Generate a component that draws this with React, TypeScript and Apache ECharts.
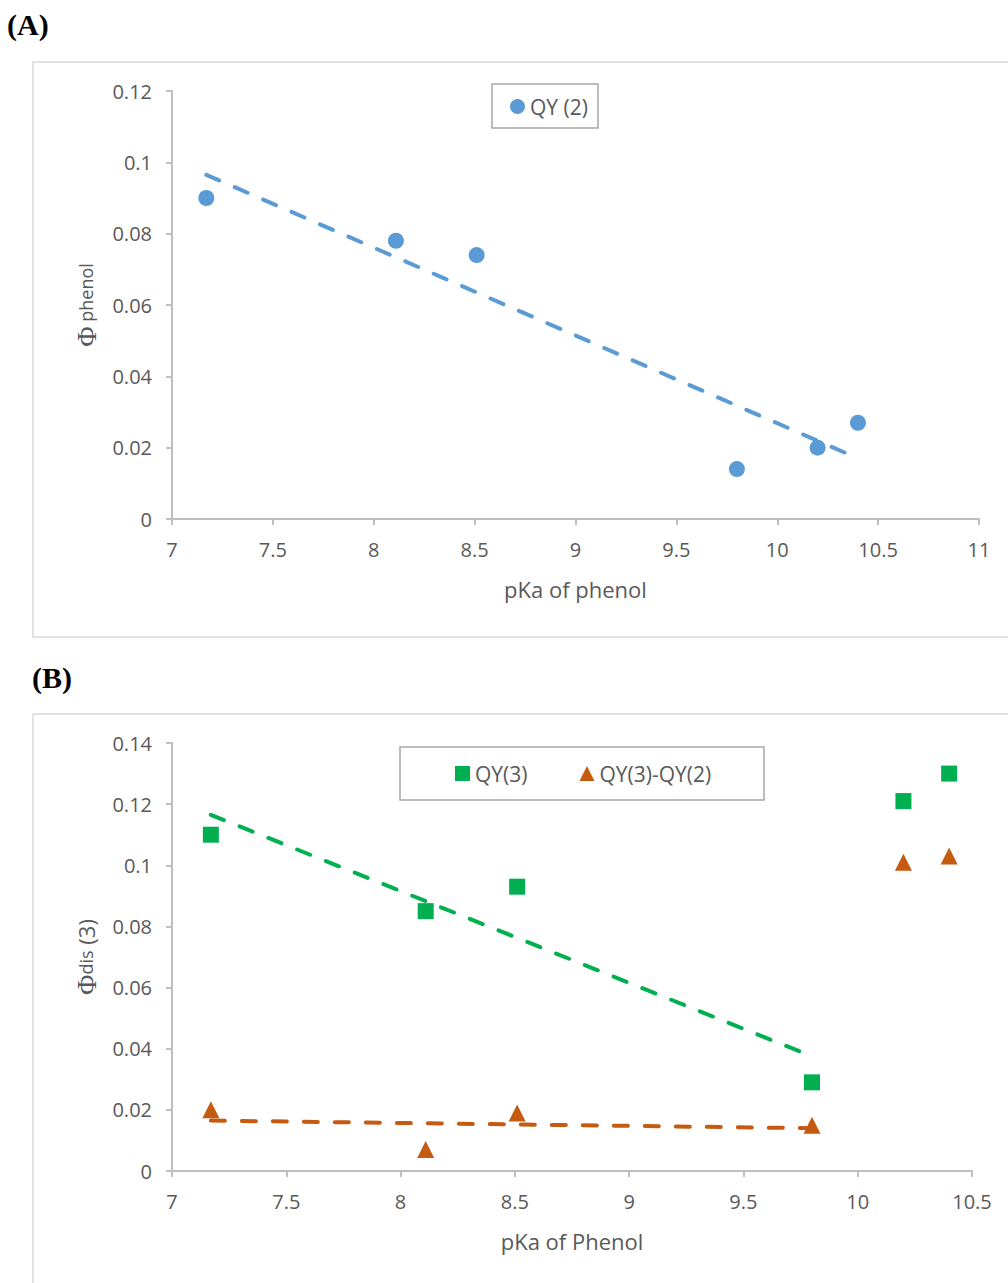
import React, { useEffect, useRef } from "react";
import * as echarts from "echarts";

// Panel A data
const pKaA = [7.17, 8.11, 8.51, 9.8, 10.2, 10.4];
const qy2 = [0.09, 0.078, 0.074, 0.014, 0.02, 0.027];
const trendA = [[7.17, 0.0965], [10.4, 0.017]];

// Panel B data
const pKaB = [7.17, 8.11, 8.51, 9.8, 10.2, 10.4];
const qy3 = [0.11, 0.085, 0.093, 0.029, 0.121, 0.13];
const qyDiff = [0.02, 0.007, 0.019, 0.015, 0.101, 0.103];
const trendB3 = [[7.17, 0.1165], [9.8, 0.0375]];
const trendBDiff = [[7.17, 0.0165], [9.8, 0.014]];

const xTicksA = { min: 7, max: 11, interval: 0.5 };
const yTicksA = { min: 0, max: 0.12, interval: 0.02 };
const xTicksB = { min: 7, max: 10.5, interval: 0.5 };
const yTicksB = { min: 0, max: 0.14, interval: 0.02 };

const BLUE = "#5b9bd5";
const GREEN = "#00b050";
const ORANGE = "#c55a11";
const TXT = "#595959";
const AX = "#bfbfbf";
const FONT = "Open Sans";

const fmt = (v: number) => String(parseFloat(v.toFixed(3)));

function xAxis(gridIndex: number, t: any, name: string) {
  return {
    type: "value",
    gridIndex,
    min: t.min,
    max: t.max,
    interval: t.interval,
    name,
    nameLocation: "middle",
    nameGap: 59,
    nameTextStyle: { color: TXT, fontSize: 22, fontFamily: FONT },
    axisLine: { show: true, onZero: false, lineStyle: { color: AX, width: 2 } },
    axisTick: { show: true, length: 6, lineStyle: { color: AX, width: 2 } },
    axisLabel: { color: TXT, fontSize: 20, fontFamily: FONT, margin: 20, formatter: fmt },
    splitLine: { show: false },
  };
}

function yAxis(gridIndex: number, t: any, name: string) {
  return {
    type: "value",
    gridIndex,
    min: t.min,
    max: t.max,
    interval: t.interval,
    name,
    nameLocation: "middle",
    nameGap: 72,
    nameTextStyle: {
      color: TXT,
      fontFamily: FONT,
      rich: {
        p: { fontFamily: "Liberation Serif", fontSize: 28, color: TXT },
        s: { fontFamily: FONT, fontSize: 18, color: TXT },
        n: { fontFamily: FONT, fontSize: 22, color: TXT },
      },
    },
    axisLine: { show: true, lineStyle: { color: AX, width: 2 } },
    axisTick: { show: true, length: 6, lineStyle: { color: AX, width: 2 } },
    axisLabel: { color: TXT, fontSize: 20, fontFamily: FONT, margin: 20, formatter: fmt },
    splitLine: { show: false },
  };
}

function trend(name: string, data: number[][], color: string, xi: number, yi: number) {
  return {
    type: "line",
    name,
    xAxisIndex: xi,
    yAxisIndex: yi,
    data,
    showSymbol: false,
    symbol: "none",
    silent: true,
    z: 5,
    lineStyle: { color, width: 4, type: [14, 17], cap: "round" },
  };
}

export default function App() {
  const ref = useRef<HTMLDivElement>(null);
  useEffect(() => {
    if (!ref.current) return;
    const chart = echarts.init(ref.current, undefined, { renderer: "svg" });
    chart.setOption({
      animation: false,
      backgroundColor: "#ffffff",
      grid: [
        { left: 172, top: 91, width: 807, height: 428 },
        { left: 172, top: 743, width: 800, height: 428 },
      ],
      xAxis: [xAxis(0, xTicksA, "pKa of phenol"), xAxis(1, xTicksB, "pKa of Phenol")],
      yAxis: [yAxis(0, yTicksA, "{p|Φ}{s| phenol}"), yAxis(1, yTicksB, "{p|Φ}{s|dis}{n| (3)}")],
      legend: [
        {
          data: ["QY (2)"],
          left: 510,
          top: 96,
          padding: 0,
          itemWidth: 15,
          itemHeight: 15,
          itemGap: 10,
          textStyle: { color: TXT, fontSize: 21, fontFamily: FONT },
        },
        {
          data: ["QY(3)", "QY(3)-QY(2)"],
          left: 455,
          top: 763,
          padding: 0,
          itemWidth: 15,
          itemHeight: 15,
          itemGap: 52,
          textStyle: { color: TXT, fontSize: 21, fontFamily: FONT },
        },
      ],
      graphic: [
        { type: "rect", shape: { x: 33, y: 62, width: 1000, height: 575 }, style: { fill: "none", stroke: "#d9d9d9", lineWidth: 1.5 }, z: -1 },
        { type: "rect", shape: { x: 33, y: 714, width: 1000, height: 600 }, style: { fill: "none", stroke: "#d9d9d9", lineWidth: 1.5 }, z: -1 },
        { type: "rect", shape: { x: 492, y: 84, width: 106, height: 44 }, style: { fill: "none", stroke: "#a6a6a6", lineWidth: 1.5 } },
        { type: "rect", shape: { x: 400, y: 747, width: 364, height: 53 }, style: { fill: "none", stroke: "#a6a6a6", lineWidth: 1.5 } },
        { type: "text", x: 7, y: 9, style: { text: "(A)", font: "bold 30px 'Liberation Serif'", fill: "#000" } },
        { type: "text", x: 32, y: 662, style: { text: "(B)", font: "bold 30px 'Liberation Serif'", fill: "#000" } },
      ],
      series: [
        {
          type: "scatter",
          name: "QY (2)",
          xAxisIndex: 0,
          yAxisIndex: 0,
          data: pKaA.map((x, i) => [x, qy2[i]]),
          symbol: "circle",
          symbolSize: 16,
          itemStyle: { color: BLUE, opacity: 1 },
          z: 3,
        },
        trend("trendA", trendA, BLUE, 0, 0),
        {
          type: "scatter",
          name: "QY(3)",
          xAxisIndex: 1,
          yAxisIndex: 1,
          data: pKaB.map((x, i) => [x, qy3[i]]),
          symbol: "rect",
          symbolSize: 16,
          itemStyle: { color: GREEN, opacity: 1 },
          z: 3,
        },
        {
          type: "scatter",
          name: "QY(3)-QY(2)",
          xAxisIndex: 1,
          yAxisIndex: 1,
          data: pKaB.map((x, i) => [x, qyDiff[i]]),
          symbol: "triangle",
          symbolSize: 17,
          itemStyle: { color: ORANGE, opacity: 1 },
          z: 3,
        },
        trend("trendB3", trendB3, GREEN, 1, 1),
        trend("trendBDiff", trendBDiff, ORANGE, 1, 1),
      ],
    });
    return () => chart.dispose();
  }, []);
  return (
    <div
      ref={ref}
      style={{ position: "absolute", left: 0, top: 0, width: 1008, height: 1283 }}
    />
  );
}
